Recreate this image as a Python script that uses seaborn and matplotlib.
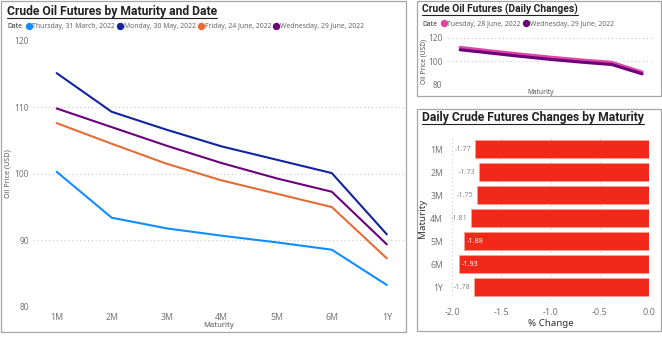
import matplotlib
matplotlib.use('Agg')
import matplotlib.pyplot as plt
import seaborn as sns
import pandas as pd
from matplotlib.lines import Line2D
from matplotlib.patches import Rectangle

# data
maturities = ['1M', '2M', '3M', '4M', '5M', '6M', '1Y']
dates_main = ['Thursday, 31 March, 2022', 'Monday, 30 May, 2022',
              'Friday, 24 June, 2022', 'Wednesday, 29 June, 2022']
price_mar31 = [100.3, 93.4, 91.8, 90.7, 89.7, 88.6, 83.3]
price_may30 = [115.1, 109.3, 106.6, 104.1, 102.1, 100.1, 90.9]
price_jun24 = [107.6, 104.5, 101.5, 99.0, 97.0, 95.0, 87.3]
price_jun29 = [109.8, 107.0, 104.2, 101.6, 99.3, 97.3, 89.4]
dates_daily = ['Tuesday, 28 June, 2022', 'Wednesday, 29 June, 2022']
price_jun28 = [111.8, 108.9, 106.1, 103.5, 101.2, 99.2, 91.0]
pct_change = [-1.77, -1.73, -1.75, -1.81, -1.88, -1.93, -1.78]

colors_main = ['#118DFF', '#12239E', '#E66C37', '#6B007B']
colors_daily = ['#E044A7', '#6B007B']
bar_red = '#F2291A'
tick_grey = '#777777'
dark = '#333333'

sns.set_style('white')
plt.rcParams['font.family'] = ['Noto Sans', 'DejaVu Sans']

W, H = 662, 337
fig = plt.figure(figsize=(W / 100, H / 100), dpi=100)


def fx(px):
    return px / W


def fy(py):
    return 1 - py / H


def axes_px(x0, y0, x1, y1):
    return fig.add_axes([fx(x0), fy(y1), fx(x1 - x0), (y1 - y0) / H])


def panel(x0, y0, x1, y1):
    fig.add_artist(Rectangle((fx(x0), fy(y1)), fx(x1 - x0), (y1 - y0) / H,
                             transform=fig.transFigure, fill=False,
                             edgecolor='#A6A6A6', lw=0.9))


def legend_row(x, y, labels, colors, size=4.9):
    fig.text(fx(x), fy(y), 'Date', fontsize=size, fontweight='bold',
             color=dark, va='center')
    handles = [Line2D([], [], marker='o', ls='', color=c, markersize=4.3)
               for c in colors]
    fig.legend(handles, labels, loc='center left',
               bbox_to_anchor=(fx(x + 19), fy(y)), ncol=len(labels),
               frameon=False, fontsize=size, labelcolor='#666666',
               handlelength=0.8, handletextpad=0.15, columnspacing=0.35,
               borderpad=0, borderaxespad=0)


titles = []


def title(x, y, s, size):
    t = fig.text(fx(x), fy(y), s, fontsize=size, fontweight='bold',
                 color='#222222', va='center', family='Roboto')
    titles.append(t)


def style_ax(ax, grid_axis):
    sns.despine(ax=ax, left=True, bottom=True)
    ax.grid(axis=grid_axis, ls=(0, (1, 2.5)), color='#C8C8C8', lw=0.8)
    ax.set_axisbelow(True)
    ax.tick_params(length=0, colors=tick_grey)


# ---------------- main line chart ----------------
panel(1, 1, 406, 332)
title(7, 11, 'Crude Oil Futures by Maturity and Date', 8.7)
legend_row(7, 27, dates_main, colors_main)

df_main = pd.DataFrame({
    'Maturity': maturities * 4,
    'Date': sum([[d] * 7 for d in dates_main], []),
    'Price': price_mar31 + price_may30 + price_jun24 + price_jun29,
})
ax = axes_px(33, 40.5, 405, 307)
sns.lineplot(data=df_main, x='Maturity', y='Price', hue='Date',
             palette=colors_main, lw=1.5, sort=False, legend=False, ax=ax)
ax.set_ylim(80, 120)
ax.set_yticks([80, 90, 100, 110, 120])
ax.set_xlim(-0.43, 6.33)
style_ax(ax, 'y')
ax.tick_params(axis='x', labelsize=6.3, pad=4)
ax.tick_params(axis='y', labelsize=6.0, pad=3)
ax.set_ylabel('Oil Price (USD)', fontsize=5.2, color='#555555')
ax.set_xlabel('Maturity', fontsize=5.5, color='#555555')
ax.yaxis.set_label_coords(-0.058, 0.5)
ax.xaxis.set_label_coords(0.5, -0.058)

# ---------------- daily changes line chart ----------------
panel(417, 1, 661, 96)
title(422, 9, 'Crude Oil Futures (Daily Changes)', 7.4)
legend_row(422, 24, dates_daily, colors_daily)

df_daily = pd.DataFrame({
    'Maturity': maturities * 2,
    'Date': sum([[d] * 7 for d in dates_daily], []),
    'Price': price_jun28 + price_jun29,
})
ax2 = axes_px(448, 37.7, 653, 85)
sns.lineplot(data=df_daily, x='Maturity', y='Price', hue='Date',
             palette=colors_daily, lw=2.2, sort=False, legend=False, ax=ax2)
ax2.set_ylim(80, 120)
ax2.set_yticks([80, 100, 120])
ax2.set_xlim(-0.4, 6.36)
ax2.set_xticklabels([])
style_ax(ax2, 'y')
ax2.tick_params(axis='y', labelsize=6, pad=4)
ax2.set_ylabel('Oil Price (USD)', fontsize=4.8, color='#555555')
ax2.set_xlabel('Maturity', fontsize=4.8, color='#555555')
ax2.yaxis.set_label_coords(-0.102, 0.5)
ax2.xaxis.set_label_coords(0.45, -0.095)

# ---------------- bar chart ----------------
panel(417, 109, 661, 331)
title(422, 117, 'Daily Crude Futures Changes by Maturity', 8.7)

ax3 = axes_px(452, 137.8, 649, 298.5)
sns.barplot(x=pct_change, y=maturities, orient='h', color=bar_red,
            saturation=1, width=0.77, edgecolor='#F8A090', linewidth=0.6,
            ax=ax3)
ax3.set_xlim(-2.0, 0.0)
ax3.set_xticks([-2.0, -1.5, -1.0, -0.5, 0.0])
ax3.set_xticklabels(['-2.0', '-1.5', '-1.0', '-0.5', '0.0'])
style_ax(ax3, 'x')
ax3.tick_params(axis='y', labelsize=6.2, pad=6.5)
ax3.tick_params(axis='x', labelsize=6.5, pad=7)
ax3.set_xlabel('% Change', fontsize=7, fontweight='bold', color=dark)
ax3.set_ylabel('Maturity', fontsize=7, fontweight='bold', color=dark)
ax3.yaxis.set_label_coords(-0.125, 0.5)
ax3.xaxis.set_label_coords(0.5, -0.13)
for i, v in enumerate(pct_change):
    if v > -1.85:
        ax3.text(v - 0.03, i, f'{v:.2f}', ha='right', va='center',
                 fontsize=5.2, color='#888888')
    else:
        ax3.text(v + 0.03, i, f'{v:.2f}', ha='left', va='center',
                 fontsize=5.2, color='white')

# underline the titles
fig.canvas.draw()
r = fig.canvas.get_renderer()
for t in titles:
    bb = t.get_window_extent(r)
    yy = (bb.y0 - 0.5) / H
    fig.add_artist(Line2D([bb.x0 / W, bb.x1 / W], [yy, yy],
                          transform=fig.transFigure, color='#222222', lw=0.8))

fig.savefig('out.png', dpi=100)
